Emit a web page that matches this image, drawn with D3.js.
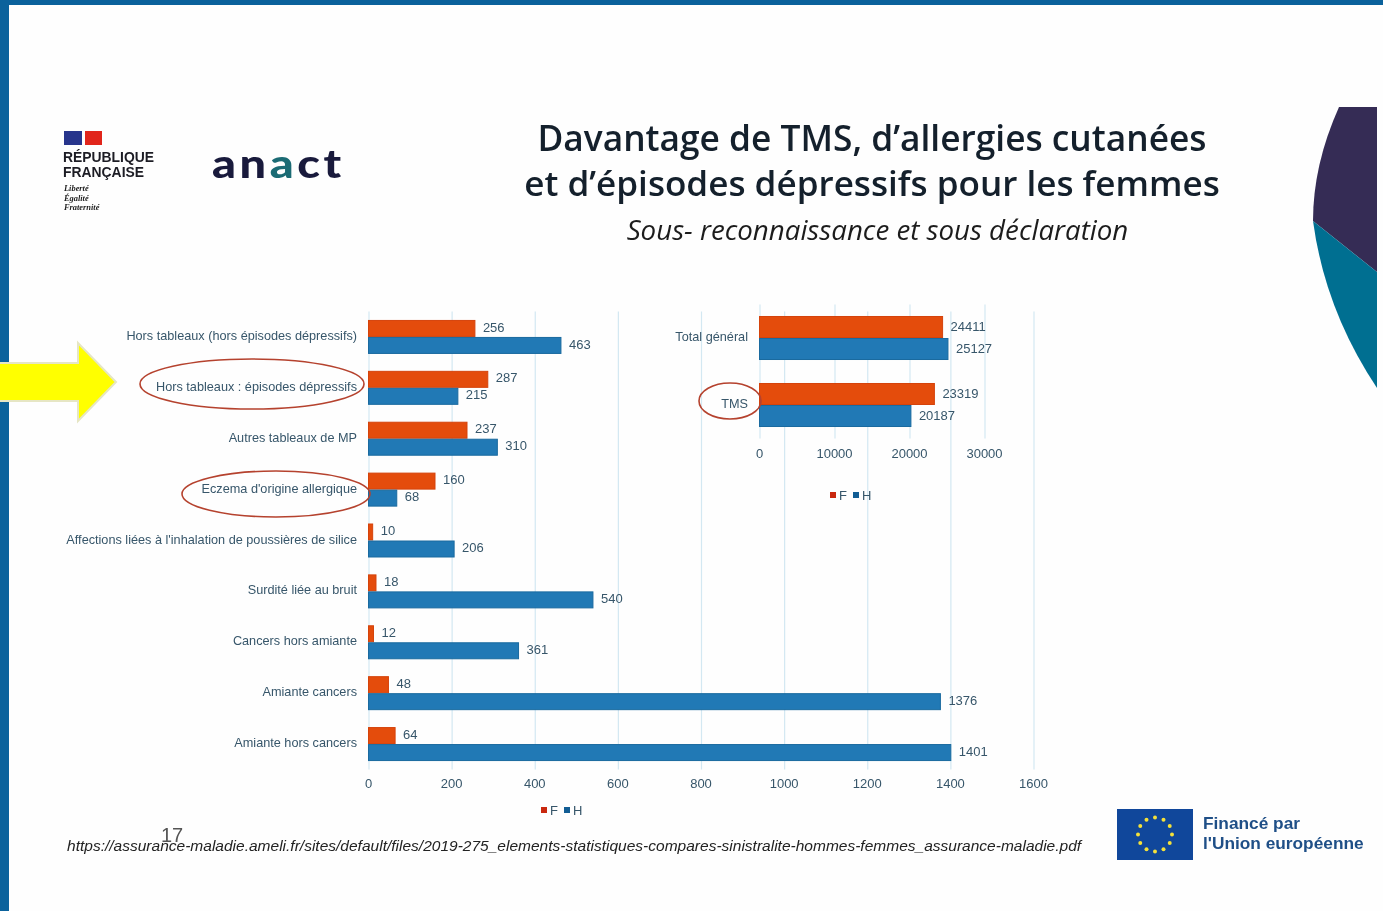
<!doctype HTML>
<html>
<head>
    <meta charset="utf-8">
    <script src="https://d3js.org/d3.v7.min.js"></script>
    <style>
        body { margin: 0; background: #fefefe; overflow: hidden; }
        svg { filter: blur(0.4px); }
        text { font-family: "Liberation Sans", sans-serif; }
        .domain { display: none; }
    </style>
</head>
<body>
<script>
    var canvasWidth = 1383;
    var canvasHeight = 911;

    // left chart
    var categories = ["Hors tableaux (hors épisodes dépressifs)", "Hors tableaux : épisodes dépressifs",
        "Autres tableaux de MP", "Eczema d'origine allergique", "Affections liées à l'inhalation de poussières de silice",
        "Surdité liée au bruit", "Cancers hors amiante", "Amiante cancers", "Amiante hors cancers"];
    var valuesF = [256, 287, 237, 160, 10, 18, 12, 48, 64];
    var valuesH = [463, 215, 310, 68, 206, 540, 361, 1376, 1401];
    var ticks = [0, 200, 400, 600, 800, 1000, 1200, 1400, 1600];

    // right chart
    var categories2 = ["Total général", "TMS"];
    var valuesF2 = [24411, 23319];
    var valuesH2 = [25127, 20187];
    var ticks2 = [0, 10000, 20000, 30000];

    var seriesNames = ["F", "H"];
    var colorF = "#e44c0c";
    var colorH = "#2179b5";
    var textColor = "#37566a";

    var svg = d3.select("body").append("svg")
        .attr("width", canvasWidth)
        .attr("height", canvasHeight)
        .style("display", "block");

    // slide frame
    svg.append("rect").attr("width", canvasWidth).attr("height", 5).attr("fill", "#0b629c");
    svg.append("rect").attr("width", 9).attr("height", canvasHeight).attr("fill", "#0b629c");

    // title
    svg.append("text").attr("x", 872).attr("y", 151).attr("text-anchor", "middle")
        .style("font-family", "'Open Sans'").attr("font-weight", 600).attr("font-size", "35.3px").attr("fill", "#14202c")
        .text("Davantage de TMS, d’allergies cutanées");
    svg.append("text").attr("x", 872).attr("y", 196).attr("text-anchor", "middle")
        .style("font-family", "'Open Sans'").attr("font-weight", 600).attr("font-size", "35.1px").attr("fill", "#14202c")
        .text("et d’épisodes dépressifs pour les femmes");
    svg.append("text").attr("x", 877.5).attr("y", 240).attr("text-anchor", "middle")
        .style("font-family", "'Open Sans'").attr("font-style", "italic").attr("font-size", "27.7px").attr("fill", "#1c1c1c")
        .text("Sous- reconnaissance et sous déclaration");

    // logos
    svg.append("rect").attr("x", 64).attr("y", 131).attr("width", 18).attr("height", 14).attr("fill", "#27358c");
    svg.append("rect").attr("x", 85).attr("y", 131).attr("width", 17).attr("height", 14).attr("fill", "#e1251b");
    svg.append("text").attr("x", 63).attr("y", 162).attr("font-weight", 700).attr("font-size", "13.9px").attr("fill", "#1c1c24").text("RÉPUBLIQUE");
    svg.append("text").attr("x", 63).attr("y", 177).attr("font-weight", 700).attr("font-size", "13.9px").attr("fill", "#1c1c24").text("FRANÇAISE");
    ["Liberté", "Égalité", "Fraternité"].forEach(function(d, i) {
        svg.append("text").attr("x", 64).attr("y", 191 + i * 9.5)
            .style("font-family", "'Liberation Serif'").attr("font-style", "italic").attr("font-weight", 700)
            .attr("font-size", "8.4px").attr("fill", "#222").text(d);
    });
    var anact = svg.append("text").attr("transform", "translate(212, 178) scale(1.2, 1)")
        .style("font-family", "Lato").attr("font-weight", 900).attr("font-size", "39px")
        .attr("letter-spacing", "3px").attr("fill", "#191a3c");
    anact.append("tspan").text("an");
    anact.append("tspan").attr("fill", "#1b6b74").text("a");
    anact.append("tspan").text("ct");

    // corner shape
    svg.append("path").attr("d", "M1339,107 Q1313,165 1313,221 L1377,272 L1377,107 Z").attr("fill", "#352c55");
    svg.append("path").attr("d", "M1313,221 L1377,272 L1377,388 Q1325,310 1313,221 Z").attr("fill", "#006f91");

    // yellow arrow
    svg.append("path").attr("d", "M-3,363 L78,363 L78,343 L116,382 L78,421 L78,401 L-3,401 Z")
        .attr("fill", "#ffff00").attr("stroke", "#e6e6c4").attr("stroke-width", 2);

    function drawChart(cats, vF, vH, tickVals, opts) {
        var xScale = d3.scaleLinear().domain(opts.xDomain).range(opts.xRange);
        var yScale = d3.scaleBand().domain(cats).range(opts.yRange)
            .paddingInner(opts.padding).paddingOuter(opts.padding / 2);
        var subScale = d3.scaleBand().domain(seriesNames).range([0, yScale.bandwidth()]);

        var g = svg.append("g");

        // grid + tick labels
        g.append("g")
            .attr("transform", "translate(0, " + opts.yRange[1] + ")")
            .call(d3.axisBottom(xScale).tickValues(tickVals).tickFormat(d3.format("d"))
                .tickSize(-(opts.yRange[1] - opts.yRange[0])).tickPadding(opts.tickPad))
            .call(function(a) {
                a.selectAll("line").attr("stroke", "#d3e8f2").attr("stroke-width", 1.2);
                a.selectAll("text").attr("fill", textColor).attr("font-size", "13px").attr("dx", "-0.5")
                    .style("font-family", "'Liberation Sans'");
            });

        // category labels
        g.selectAll(".cat").data(cats).enter().append("text")
            .attr("x", opts.labelX)
            .attr("y", function(d) { return yScale(d) + yScale.bandwidth() / 2 - 1; })
            .attr("dy", "0.32em")
            .attr("text-anchor", "end")
            .attr("font-size", "12.7px")
            .attr("fill", textColor)
            .text(function(d) { return d; });

        [["F", vF, colorF, "#d5430b"], ["H", vH, colorH, "#1a6a9f"]].forEach(function(s) {
            var row = g.append("g");
            row.selectAll("rect").data(cats).enter().append("rect")
                .attr("x", xScale(0))
                .attr("y", function(d) { return yScale(d) + subScale(s[0]) + 0.5; })
                .attr("width", function(d, i) { return xScale(s[1][i]) - xScale(0); })
                .attr("height", subScale.bandwidth() - 1)
                .attr("fill", s[2])
                .attr("stroke", s[3]);
            row.selectAll("text").data(cats).enter().append("text")
                .attr("x", function(d, i) { return xScale(s[1][i]) + 8; })
                .attr("y", function(d) { return yScale(d) + subScale(s[0]) + subScale.bandwidth() / 2 + opts.valueDy; })
                .attr("dy", "0.32em")
                .attr("font-size", "13px")
                .attr("fill", textColor)
                .text(function(d, i) { return s[1][i]; });
        });

        // legend
        var legend = g.append("g").attr("transform", "translate(" + opts.legendX + ", " + opts.legendY + ")");
        seriesNames.forEach(function(name, i) {
            legend.append("rect").attr("x", i * 23).attr("y", -3).attr("width", 6).attr("height", 6)
                .attr("fill", i == 0 ? "#c9280f" : "#125d94");
            legend.append("text").attr("x", i * 23 + 9).attr("y", 0).attr("dy", "0.36em")
                .attr("font-size", "13px").attr("fill", textColor).text(name);
        });
    }

    drawChart(categories, valuesF, valuesH, ticks, {
        xDomain: [0, 1600], xRange: [368.5, 1033.5], yRange: [311.5, 769.5], padding: 0.332,
        labelX: 357, tickPad: 9, legendX: 541, legendY: 810, valueDy: -1
    });
    drawChart(categories2, valuesF2, valuesH2, ticks2, {
        xDomain: [0, 30000], xRange: [759.5, 984.5], yRange: [304.5, 438.5], padding: 0.343,
        labelX: 748, tickPad: 10, legendX: 830, legendY: 495, valueDy: 0
    });

    // hand drawn circles
    [[252, 384, 112, 25], [276, 494, 94, 23], [730, 401, 31, 18]].forEach(function(e) {
        svg.append("ellipse").attr("cx", e[0]).attr("cy", e[1]).attr("rx", e[2]).attr("ry", e[3])
            .attr("fill", "none").attr("stroke", "#b5422e").attr("stroke-width", 1.6);
    });

    // footer
    svg.append("text").attr("x", 161).attr("y", 842).attr("font-size", "20px").attr("fill", "#555").text("17");
    svg.append("text").attr("x", 67).attr("y", 851).attr("font-style", "italic").attr("font-size", "15.53px").attr("fill", "#222")
        .text("https://assurance-maladie.ameli.fr/sites/default/files/2019-275_elements-statistiques-compares-sinistralite-hommes-femmes_assurance-maladie.pdf");

    // EU flag
    svg.append("rect").attr("x", 1117).attr("y", 809).attr("width", 76).attr("height", 51).attr("fill", "#10479b");
    d3.range(12).forEach(function(i) {
        var a = i * Math.PI / 6;
        svg.append("circle").attr("cx", 1155 + 17 * Math.sin(a)).attr("cy", 834.5 - 17 * Math.cos(a))
            .attr("r", 2).attr("fill", "#f5e23a");
    });
    svg.append("text").attr("x", 1203).attr("y", 829).attr("font-weight", 700).attr("font-size", "17.3px").attr("fill", "#1f4f87").text("Financé par");
    svg.append("text").attr("x", 1203).attr("y", 849).attr("font-weight", 700).attr("font-size", "17.3px").attr("fill", "#1f4f87").text("l'Union européenne");
</script>
</body>
</html>
